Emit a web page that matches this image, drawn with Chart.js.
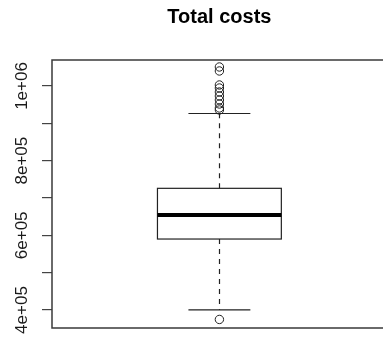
<!DOCTYPE html>
<html>
<head>
<meta charset="utf-8">
<script src="https://cdn.jsdelivr.net/npm/chart.js@4/dist/chart.umd.min.js"></script>
<style>
  html, body { margin: 0; padding: 0; background: #fff; overflow: hidden; }
  #wrap { width: 383px; height: 337px; overflow: hidden; }
  canvas { display: block; }
</style>
</head>
<body>
<div id="wrap"><canvas id="c" width="392" height="337"></canvas></div>
<script>
// Five-number summaries and outliers, one entry per box
const categories = ['Total costs'];
const q1 = [590100];
const medians = [654400];
const q3 = [725900];
const whiskerLow = [400500];
const whiskerHigh = [926300];
const outliers = [[374700, 935700, 941100, 951800, 962500, 973200, 983900, 994600, 1002700, 1040200, 1050900]];

// Y axis ticks and the labels shown on them
const tickValues = [400000, 500000, 600000, 700000, 800000, 900000, 1000000];
const labelValues = [400000, 600000, 800000, 1000000];
const labelTexts = ['4e+05', '6e+05', '8e+05', '1e+06'];

const chartTitle = 'Total costs';

// Box geometry in x-axis units
const BOX_HALF = 0.185;
const CAP_HALF = 0.0925;

const boxPlugin = {
  id: 'boxes',
  beforeDatasetsDraw(chart) {
    const { ctx, scales: { x, y } } = chart;
    categories.forEach((cat, i) => {
      const pos = i + 1;
      const cx = Math.round(x.getPixelForValue(pos)) + 0.5;
      const bl = x.getPixelForValue(pos - BOX_HALF);
      const br = x.getPixelForValue(pos + BOX_HALF);
      const cl = x.getPixelForValue(pos - CAP_HALF);
      const cr = x.getPixelForValue(pos + CAP_HALF);
      const yQ1 = y.getPixelForValue(q1[i]);
      const yQ3 = y.getPixelForValue(q3[i]);
      const yMed = y.getPixelForValue(medians[i]);
      const yLo = y.getPixelForValue(whiskerLow[i]);
      const yHi = y.getPixelForValue(whiskerHigh[i]);

      ctx.save();
      ctx.strokeStyle = '#222';
      ctx.lineWidth = 1.2;

      // dashed whiskers
      ctx.setLineDash([5, 5]);
      ctx.beginPath();
      ctx.moveTo(cx, yQ3); ctx.lineTo(cx, yHi);
      ctx.moveTo(cx, yQ1); ctx.lineTo(cx, yLo);
      ctx.stroke();
      ctx.setLineDash([]);

      // whisker caps
      ctx.beginPath();
      ctx.moveTo(cl, yHi); ctx.lineTo(cr, yHi);
      ctx.moveTo(cl, yLo); ctx.lineTo(cr, yLo);
      ctx.stroke();

      // box
      ctx.fillStyle = '#fff';
      ctx.fillRect(bl, yQ3, br - bl, yQ1 - yQ3);
      ctx.strokeRect(bl, yQ3, br - bl, yQ1 - yQ3);

      // median
      ctx.lineWidth = 4;
      ctx.strokeStyle = '#000';
      ctx.beginPath();
      ctx.moveTo(bl, yMed); ctx.lineTo(br, yMed);
      ctx.stroke();
      ctx.restore();
    });
  },
  afterDraw(chart) {
    const { ctx, chartArea: a, scales: { y } } = chart;
    ctx.save();
    // plot frame: top, left and bottom edges running off the right side
    ctx.strokeStyle = '#3a3a3a';
    ctx.lineWidth = 1.5;
    ctx.beginPath();
    ctx.moveTo(chart.width + 5, a.top);
    ctx.lineTo(a.left, a.top);
    ctx.lineTo(a.left, a.bottom);
    ctx.lineTo(chart.width + 5, a.bottom);
    ctx.stroke();

    // axis labels, written along the axis
    ctx.fillStyle = '#1a1a1a';
    ctx.font = '17px "Liberation Sans", Arial, sans-serif';
    ctx.textAlign = 'center';
    ctx.textBaseline = 'alphabetic';
    labelValues.forEach((v, i) => {
      ctx.save();
      ctx.translate(27, y.getPixelForValue(v));
      ctx.rotate(-Math.PI / 2);
      ctx.fillText(labelTexts[i], 0, 0);
      ctx.restore();
    });
    ctx.restore();
  }
};

new Chart(document.getElementById('c'), {
  type: 'scatter',
  data: {
    datasets: outliers.map((vals, i) => ({
      label: categories[i],
      data: vals.map(v => ({ x: i + 1, y: v })),
      pointStyle: 'circle',
      pointRadius: 4.2,
      pointBorderWidth: 1,
      pointBorderColor: '#222',
      pointBackgroundColor: 'rgba(0,0,0,0)'
    }))
  },
  options: {
    responsive: false,
    animation: false,
    layout: { padding: { left: 42, right: 4, top: 0, bottom: 9 } },
    plugins: {
      legend: { display: false },
      tooltip: { enabled: false },
      title: {
        display: true,
        text: chartTitle,
        fullSize: false,
        color: '#000',
        font: { family: '"Liberation Sans", Arial, sans-serif', size: 20, weight: 'bold', lineHeight: 1.2 },
        padding: { top: 5, bottom: 31 }
      }
    },
    scales: {
      x: {
        type: 'linear',
        display: false,
        min: 0.5,
        max: categories.length + 0.5
      },
      y: {
        type: 'linear',
        position: 'left',
        min: 351800,
        max: 1069600,
        afterBuildTicks: (s) => { s.ticks = tickValues.map(v => ({ value: v })); },
        ticks: { display: false },
        border: { display: false },
        grid: {
          drawOnChartArea: false,
          drawTicks: true,
          tickLength: 10,
          color: '#444',
          lineWidth: 1.2
        }
      }
    }
  },
  plugins: [boxPlugin]
});
</script>
</body>
</html>
